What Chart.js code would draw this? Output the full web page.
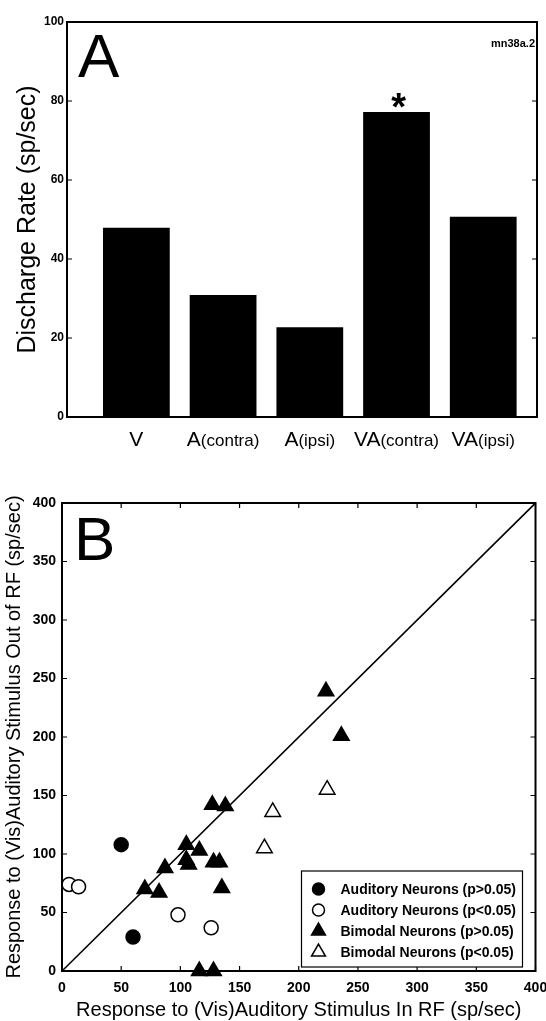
<!DOCTYPE html>
<html>
<head>
<meta charset="utf-8">
<script src="https://cdn.jsdelivr.net/npm/chart.js@4.4.0/dist/chart.umd.min.js"></script>
<style>
  body { margin: 0; background: #fff; }
  .panel { position: absolute; left: 0; width: 546px; }
  #boxA { top: 0; height: 480px; }
  #boxB { top: 480px; height: 541px; }
</style>
</head>
<body>
<div class="panel" id="boxA"><canvas id="rates"></canvas></div>
<div class="panel" id="boxB"><canvas id="scatter"></canvas></div>
<script>
// panel A - discharge rate of one neuron
const barLabels = ['V', 'A(contra)', 'A(ipsi)', 'VA(contra)', 'VA(ipsi)'];
const barRates = [47.9, 30.9, 22.7, 77.2, 50.7];
const barMarks = ['', '', '', '*', ''];
const rateMax = 100;
const rateStep = 20;

// panel B - population, in RF vs out of RF
const audSameX = [50, 60];
const audSameY = [108, 29];
const audDiffX = [6, 14, 98, 126];
const audDiffY = [74, 72, 48, 37];
const bimSameX = [223, 236, 127, 138, 105, 116, 105, 107, 128, 133, 135, 87, 70, 82, 116, 128];
const bimSameY = [239, 201, 142, 141, 108, 103, 95, 91, 93, 93, 71, 88, 70, 67, 0, 0];
const bimDiffX = [178, 171, 224];
const bimDiffY = [136, 105, 155];
const seriesNames = ['Auditory Neurons (p>0.05)', 'Auditory Neurons (p<0.05)', 'Bimodal Neurons (p>0.05)', 'Bimodal Neurons (p<0.05)'];
const respMax = 400;
const respStep = 50;

Chart.defaults.font.family = "Arial, 'Liberation Sans', sans-serif";
Chart.defaults.color = '#000';

const toPoints = (xs, ys) => xs.map((x, i) => ({ x: x, y: ys[i] }));

// box around the plot + inward ticks, matlab style
const frame = {
  id: 'frame',
  afterDraw(chart, args, opts) {
    const { ctx, chartArea: a, scales } = chart;
    const t = 5;
    ctx.save();
    ctx.strokeStyle = '#000';
    ctx.lineWidth = 2;
    ctx.strokeRect(a.left, a.top, a.right - a.left, a.bottom - a.top);
    ctx.lineWidth = 1.2;
    ctx.beginPath();
    scales.y.ticks.forEach(tk => {
      const p = scales.y.getPixelForValue(tk.value);
      ctx.moveTo(a.left, p); ctx.lineTo(a.left + t, p);
      ctx.moveTo(a.right, p); ctx.lineTo(a.right - t, p);
    });
    if (opts.xTicks) {
      scales.x.ticks.forEach(tk => {
        const p = scales.x.getPixelForValue(tk.value);
        ctx.moveTo(p, a.bottom); ctx.lineTo(p, a.bottom - t);
        ctx.moveTo(p, a.top); ctx.lineTo(p, a.top + t);
      });
    }
    ctx.stroke();
    ctx.font = '62px Arial, "Liberation Sans", sans-serif';
    ctx.fillStyle = '#000';
    ctx.textAlign = 'left';
    ctx.textBaseline = 'alphabetic';
    ctx.fillText(opts.letter, a.left + opts.letterDx, a.top + opts.letterDy);
    ctx.restore();
  }
};

// category labels with the small (contra)/(ipsi) part, plus asterisk and cell name
const barText = {
  id: 'barText',
  afterDraw(chart) {
    const { ctx, chartArea: a } = chart;
    const meta = chart.getDatasetMeta(0);
    const big = '21px Arial, "Liberation Sans", sans-serif';
    const small = '17px Arial, "Liberation Sans", sans-serif';
    ctx.save();
    ctx.fillStyle = '#000';
    ctx.textBaseline = 'alphabetic';
    ctx.textAlign = 'left';
    meta.data.forEach((bar, i) => {
      const lbl = barLabels[i];
      const k = lbl.indexOf('(');
      const main = k < 0 ? lbl : lbl.slice(0, k);
      const sub = k < 0 ? '' : lbl.slice(k);
      ctx.font = big;
      const w1 = ctx.measureText(main).width;
      ctx.font = small;
      const w2 = ctx.measureText(sub).width;
      const x = bar.x - (w1 + w2) / 2;
      const y = a.bottom + 29;
      ctx.font = big;
      ctx.fillText(main, x, y);
      ctx.font = small;
      ctx.fillText(sub, x + w1, y);
      if (barMarks[i]) {
        ctx.font = 'bold 38px Arial, "Liberation Sans", sans-serif';
        ctx.textAlign = 'center';
        ctx.fillText(barMarks[i], bar.x + 2, bar.y + 8);
        ctx.textAlign = 'left';
      }
    });
    ctx.font = 'bold 11px Arial, "Liberation Sans", sans-serif';
    ctx.textAlign = 'right';
    ctx.fillText('mn38a.2', a.right - 2, a.top + 25);
    ctx.restore();
  }
};

// legend box inside plot B
const boxLegend = {
  id: 'boxLegend',
  afterDraw(chart) {
    const { ctx, chartArea: a } = chart;
    const w = 221, h = 96;
    const x0 = a.right - 13 - w, y0 = a.bottom - 4 - h;
    ctx.save();
    ctx.fillStyle = '#fff';
    ctx.fillRect(x0, y0, w, h);
    ctx.strokeStyle = '#000';
    ctx.lineWidth = 1.2;
    ctx.strokeRect(x0, y0, w, h);
    ctx.font = 'bold 14px Arial, "Liberation Sans", sans-serif';
    ctx.textBaseline = 'middle';
    ctx.textAlign = 'left';
    seriesNames.forEach((name, i) => {
      const ds = chart.data.datasets[i];
      const y = y0 + 18 + i * 21;
      ctx.fillStyle = ds.backgroundColor;
      ctx.strokeStyle = ds.borderColor;
      ctx.lineWidth = ds.borderWidth;
      Chart.helpers.drawPoint(ctx, { pointStyle: ds.pointStyle, radius: ds.pointRadius - 1, rotation: 0, borderWidth: ds.borderWidth }, x0 + 17, y);
      ctx.fillStyle = '#000';
      ctx.fillText(name, x0 + 39, y + 1);
    });
    ctx.restore();
  }
};

new Chart(document.getElementById('rates'), {
  type: 'bar',
  data: {
    datasets: [{
      data: barRates.map((v, i) => ({ x: i + 1, y: v })),
      backgroundColor: '#000',
      borderWidth: 0,
      barPercentage: 0.77,
      categoryPercentage: 1
    }]
  },
  options: {
    responsive: true,
    maintainAspectRatio: false,
    animation: false,
    events: [],
    layout: { padding: { top: 22, right: 9, left: 0, bottom: 0 } },
    plugins: {
      legend: { display: false },
      tooltip: { enabled: false },
      frame: { letter: 'A', letterDx: 11, letterDy: 55, xTicks: false }
    },
    scales: {
      x: {
        type: 'linear', min: 0.2, max: 5.62, offset: false,
        ticks: { display: false },
        grid: { display: false, drawTicks: false, offset: false },
        border: { display: false },
        // one tick per bar so bar width follows bar spacing
        afterBuildTicks: s => { s.ticks = barLabels.map((l, i) => ({ value: i + 1 })); },
        afterFit: s => { s.height = 63; s.paddingLeft = 0; s.paddingRight = 0; }
      },
      y: {
        min: 0, max: rateMax,
        ticks: { stepSize: rateStep, padding: 3, font: { size: 12, weight: 'bold' } },
        grid: { display: false, drawTicks: false },
        border: { display: false },
        title: { display: true, text: 'Discharge Rate (sp/sec)', font: { size: 25, lineHeight: 1 }, padding: { top: 16, bottom: 0 } },
        afterFit: s => { s.width = 67; s.paddingTop = 0; s.paddingBottom = 0; }
      }
    }
  },
  plugins: [frame, barText]
});

const markerSet = (name, xs, ys, style, fill, r) => ({
  type: 'scatter',
  label: name,
  data: toPoints(xs, ys),
  pointStyle: style,
  pointRadius: r,
  backgroundColor: fill,
  borderColor: '#000',
  borderWidth: 1.5,
  clip: false
});

new Chart(document.getElementById('scatter'), {
  type: 'scatter',
  data: {
    datasets: [
      markerSet(seriesNames[0], audSameX, audSameY, 'circle', '#000', 7),
      markerSet(seriesNames[1], audDiffX, audDiffY, 'circle', '#fff', 7),
      markerSet(seriesNames[2], bimSameX, bimSameY, 'triangle', '#000', 9),
      markerSet(seriesNames[3], bimDiffX, bimDiffY, 'triangle', '#fff', 9),
      {
        type: 'line',
        data: [{ x: 0, y: 0 }, { x: respMax, y: respMax }],
        borderColor: '#000',
        borderWidth: 1.6,
        pointRadius: 0,
        fill: false
      }
    ]
  },
  options: {
    responsive: true,
    maintainAspectRatio: false,
    animation: false,
    events: [],
    layout: { padding: { top: 23, right: 9, left: 0, bottom: 0 } },
    plugins: {
      legend: { display: false },
      tooltip: { enabled: false },
      frame: { letter: 'B', letterDx: 12, letterDy: 57, xTicks: true }
    },
    scales: {
      x: {
        type: 'linear', min: 0, max: respMax,
        ticks: { stepSize: respStep, padding: 9, autoSkip: false, maxRotation: 0, font: { size: 14, weight: 'bold' } },
        grid: { display: false, drawTicks: false },
        border: { display: false },
        title: { display: true, text: 'Response to (Vis)Auditory Stimulus In RF (sp/sec)', font: { size: 20, lineHeight: 1 }, padding: { top: 0, bottom: 1 } },
        afterFit: s => { s.height = 50; s.paddingLeft = 0; s.paddingRight = 0; }
      },
      y: {
        type: 'linear', min: 0, max: respMax,
        ticks: { stepSize: respStep, padding: 6, font: { size: 14, weight: 'bold' } },
        grid: { display: false, drawTicks: false },
        border: { display: false },
        title: { display: true, text: 'Response to (Vis)Auditory Stimulus Out of RF (sp/sec)', font: { size: 20, lineHeight: 1 }, padding: { top: 4, bottom: 0 } },
        afterFit: s => { s.width = 62; s.paddingTop = 0; s.paddingBottom = 0; }
      }
    }
  },
  plugins: [frame, boxLegend]
});
</script>
</body>
</html>
